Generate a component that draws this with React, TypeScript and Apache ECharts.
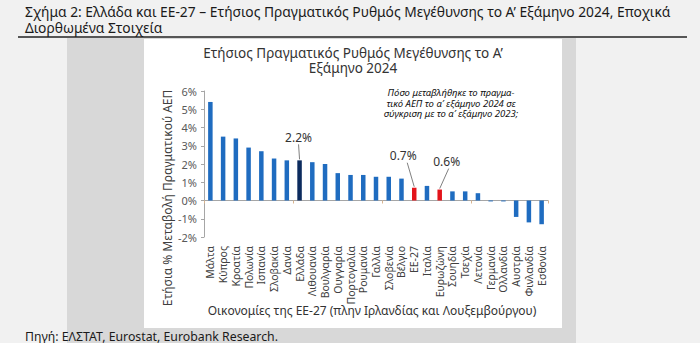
import React, { useEffect, useRef } from "react";
import * as echarts from "echarts";

const categories = [
  "Μάλτα", "Κύπρος", "Κροατία", "Πολωνία", "Ισπανία", "Σλοβακία", "Δανία", "Ελλάδα",
  "Λιθουανία", "Βουλγαρία", "Ουγγαρία", "Πορτογαλία", "Ρουμανία", "Γαλλία", "Σλοβενία",
  "Βέλγιο", "ΕΕ-27", "Ιταλία", "Ευρωζώνη", "Σουηδία", "Τσεχία", "Λετονία", "Γερμανία",
  "Ολλανδία", "Αυστρία", "Φινλανδία", "Εσθονία",
];
const growth = [
  5.4, 3.5, 3.4, 2.9, 2.7, 2.3, 2.2, 2.2, 2.1, 2.0, 1.5, 1.4, 1.4, 1.3, 1.3, 1.2,
  0.7, 0.8, 0.6, 0.5, 0.5, 0.4, -0.05, -0.05, -0.9, -1.2, -1.3,
];
const greeceName = "Ελλάδα";
const redNames = ["ΕΕ-27", "Ευρωζώνη"];
const calloutNames = ["Ελλάδα", "ΕΕ-27", "Ευρωζώνη"];

const pageTitleLines = [
  "Σχήμα 2: Ελλάδα και ΕΕ-27 – Ετήσιος Πραγματικός Ρυθμός Μεγέθυνσης το Α’ Εξάμηνο 2024, Εποχικά",
  "Διορθωμένα Στοιχεία",
];
const chartTitleLines = ["Ετήσιος Πραγματικός Ρυθμός Μεγέθυνσης το Α’", "Εξάμηνο 2024"];
const questionLines = [
  "Πόσο μεταβλήθηκε το πραγμα-",
  "τικό ΑΕΠ το α’ εξάμηνο 2024 σε",
  "σύγκριση με το α’ εξάμηνο 2023;",
];
const yName = "Ετήσια % Μεταβολή Πραγματικού ΑΕΠ";
const xName = "Οικονομίες της ΕΕ-27 (πλην Ιρλανδίας και Λουξεμβούργου)";
const sourceText = "Πηγή: ΕΛΣΤΑΤ, Eurostat, Eurobank Research.";

const FONT = "'Noto Sans', 'DejaVu Sans', sans-serif";
const BLUE = "#1f6cc0";
const NAVY = "#0c2b5e";
const RED = "#e3141b";

function barColor(name: string) {
  if (name === greeceName) return NAVY;
  if (redNames.includes(name)) return RED;
  return BLUE;
}

// label offsets (pixels) relative to bar top
const calloutOffsets: Record<string, { dx: number; dy: number; lx: number }> = {
  "Ελλάδα": { dx: -1, dy: -23, lx: 0 },
  "ΕΕ-27": { dx: -11, dy: -32, lx: 4 },
  "Ευρωζώνη": { dx: 7, dy: -28, lx: 2 },
};

function staticGraphics(): any[] {
  const els: any[] = [
    { type: "rect", z: -10, shape: { x: 67, y: 38, width: 509, height: 305 }, style: { fill: "#d8d8d8" } },
    { type: "rect", z: -9, shape: { x: 144, y: 39, width: 418, height: 289 }, style: { fill: "#ffffff" } },
    { type: "line", z: 10, shape: { x1: 18, y1: 37, x2: 687, y2: 37 }, style: { stroke: "#222", lineWidth: 1.3 } },
    {
      type: "text", z: 10, x: 167, y: 198, rotation: Math.PI / 2,
      style: { text: yName, fontFamily: FONT, fontSize: 12, fill: "#404040", align: "center", verticalAlign: "middle" },
    },
    {
      type: "text", z: 10, x: 372, y: 310,
      style: { text: xName, fontFamily: FONT, fontSize: 12, fill: "#333", align: "center", verticalAlign: "middle" },
    },
    {
      type: "text", z: 10, x: 25, y: 336,
      style: { text: sourceText, fontFamily: FONT, fontSize: 12.3, fill: "#1a1a1a", verticalAlign: "middle" },
    },
  ];
  pageTitleLines.forEach((t, i) =>
    els.push({
      type: "text", z: 10, x: 25, y: 11.5 + i * 15.5,
      style: { text: t, fontFamily: FONT, fontSize: 13.8, fill: "#1a1a1a", verticalAlign: "middle" },
    })
  );
  chartTitleLines.forEach((t, i) =>
    els.push({
      type: "text", z: 10, x: 353, y: 53 + i * 15,
      style: { text: t, fontFamily: FONT, fontSize: 13.5, fill: "#333", align: "center", verticalAlign: "middle" },
    })
  );
  questionLines.forEach((t, i) =>
    els.push({
      type: "text", z: 10, x: 451, y: 92.5 + i * 10.6,
      style: { text: t, fontFamily: FONT, fontStyle: "italic", fontSize: 9.5, fill: "#111", align: "center", verticalAlign: "middle" },
    })
  );
  return els;
}

export default function App() {
  const ref = useRef<HTMLDivElement>(null);
  useEffect(() => {
    if (!ref.current) return;
    const chart = echarts.init(ref.current, null, { renderer: "svg" });
    const option: any = {
      animation: false,
      backgroundColor: "#f1f1f1",
      textStyle: { fontFamily: FONT },
      grid: { left: 204, right: 152, top: 91, bottom: 106, containLabel: false, outerBoundsMode: "none" },
      xAxis: [
        {
          type: "category",
          data: categories,
          position: "bottom",
          axisLine: { onZero: true, lineStyle: { color: "#a6a6a6", width: 1 } },
          axisTick: { show: true, length: 3, lineStyle: { color: "#d9b48f" } },
          axisLabel: { show: false },
          splitLine: { show: false },
        },
        {
          type: "category",
          data: categories,
          position: "bottom",
          axisLine: { show: false, onZero: false },
          axisTick: { show: false },
          splitLine: { show: false },
          axisLabel: { rotate: 90, margin: 9, fontSize: 10.5, color: "#404040", fontFamily: FONT, interval: 0 },
        },
      ],
      yAxis: {
        type: "value",
        min: -2,
        max: 6,
        interval: 1,
        axisLine: { show: true, lineStyle: { color: "#a6a6a6" } },
        axisTick: { show: true, length: 3, lineStyle: { color: "#a6a6a6" } },
        splitLine: { show: false },
        axisLabel: { formatter: "{value}%", color: "#595959", fontSize: 11, margin: 7, fontFamily: FONT },
      },
      series: [
        {
          type: "bar",
          xAxisIndex: 0,
          yAxisIndex: 0,
          barWidth: 4.5,
          data: growth.map((v, i) => ({ value: v, itemStyle: { color: barColor(categories[i]) } })),
        },
      ],
      graphic: { elements: staticGraphics() },
    };
    chart.setOption(option);

    const extra: any[] = [];
    calloutNames.forEach((name) => {
      const idx = categories.indexOf(name);
      const v = growth[idx];
      const p = chart.convertToPixel({ seriesIndex: 0 }, [idx, v]) as number[];
      const o = calloutOffsets[name];
      const lx = p[0] + o.dx;
      const ly = p[1] + o.dy;
      extra.push({
        type: "text", z: 10, x: lx, y: ly,
        style: { text: v.toFixed(1) + "%", fontFamily: FONT, fontSize: 12, fill: "#333", align: "center", verticalAlign: "middle" },
      });
      extra.push({
        type: "line", z: 10,
        shape: { x1: lx + o.lx, y1: ly + 7, x2: p[0], y2: p[1] - 1 },
        style: { stroke: "#808080", lineWidth: 1 },
      });
    });
    chart.setOption({ graphic: { elements: staticGraphics().concat(extra) } });

    return () => chart.dispose();
  }, []);
  return (
    <div
      ref={ref}
      style={{ position: "fixed", left: 0, top: 0, width: 700, height: 343 }}
    />
  );
}
